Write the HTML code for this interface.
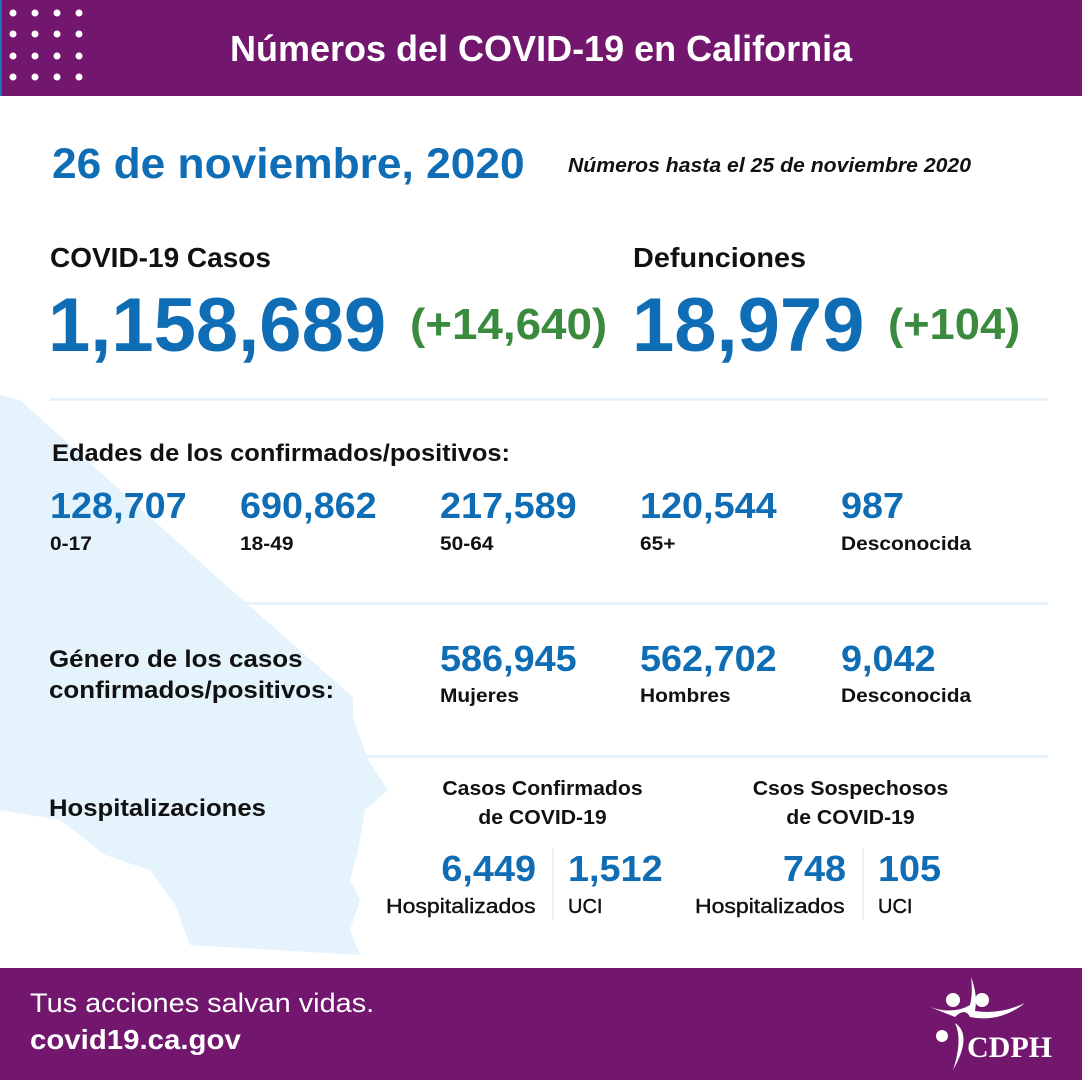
<!DOCTYPE html>
<html><head><meta charset="utf-8"><style>
body{margin:0;width:1082px;height:1080px;position:relative;overflow:hidden;background:#fff;font-family:"Liberation Sans",sans-serif;font-weight:bold}
.a{position:absolute;white-space:nowrap;transform-origin:0 0}
.b{color:#0e6db5}.g{color:#3b8b3e}.k{color:#111}
.hr{position:absolute;left:50px;width:998px;height:3px;background:#e6f3fd}
</style></head><body>
<svg class="a" style="left:0;top:0" width="1082" height="1080">
<polygon fill="#e5f3fd" points="0,395 20,400 220,580 353,697 353,717 368,760 388,790 365,810 358,850 350,880 360,900 350,930 360,955 190,945 175,905 150,870 105,855 60,820 30,815 0,810"/>
</svg>
<div class="a" style="left:0;top:0;width:1082px;height:96px;background:#72166e"></div>
<div class="a" style="left:0;top:0;width:2px;height:96px;background:#1a73ba"></div>
<svg class="a" style="left:0;top:0" width="100" height="96"><g fill="#fff">
<circle cx="13" cy="13" r="3.5"/><circle cx="35" cy="13" r="3.5"/><circle cx="57" cy="13" r="3.5"/><circle cx="79" cy="13" r="3.5"/>
<circle cx="13" cy="34" r="3.5"/><circle cx="35" cy="34" r="3.5"/><circle cx="57" cy="34" r="3.5"/><circle cx="79" cy="34" r="3.5"/>
<circle cx="13" cy="56" r="3.5"/><circle cx="35" cy="56" r="3.5"/><circle cx="57" cy="56" r="3.5"/><circle cx="79" cy="56" r="3.5"/>
<circle cx="13" cy="77" r="3.5"/><circle cx="35" cy="77" r="3.5"/><circle cx="57" cy="77" r="3.5"/><circle cx="79" cy="77" r="3.5"/></g></svg>
<div class="a" style="left:230px;top:28px;font-size:36px;color:#fff">Números del COVID-19 en California</div>
<div class="a b" style="left:52px;top:140px;font-size:43px;transform:scaleX(1.03)">26 de noviembre, 2020</div>
<div class="a k" style="left:568px;top:155px;font-size:20px;font-style:italic;transform:scaleX(1.06)">Números hasta el 25 de noviembre 2020</div>
<div class="a k" style="left:50px;top:242px;font-size:28px">COVID-19 Casos</div>
<div class="a k" style="left:633px;top:242px;font-size:28px;transform:scaleX(1.03)">Defunciones</div>
<div class="a b" style="left:48px;top:282px;font-size:76px">1,158,689</div>
<div class="a g" style="left:410px;top:300px;font-size:44px;transform:scaleX(1.04)">(+14,640)</div>
<div class="a b" style="left:632px;top:282px;font-size:76px">18,979</div>
<div class="a g" style="left:888px;top:300px;font-size:44px;transform:scaleX(1.03)">(+104)</div>
<div class="hr" style="top:398px"></div>
<div class="a k" style="left:52px;top:440px;font-size:24px;transform:scaleX(1.06)">Edades de los confirmados/positivos:</div>
<div class="a b" style="left:50px;top:485px;font-size:36px;transform:scaleX(1.05)">128,707</div>
<div class="a b" style="left:240px;top:485px;font-size:36px;transform:scaleX(1.05)">690,862</div>
<div class="a b" style="left:440px;top:485px;font-size:36px;transform:scaleX(1.05)">217,589</div>
<div class="a b" style="left:640px;top:485px;font-size:36px;transform:scaleX(1.05)">120,544</div>
<div class="a b" style="left:841px;top:485px;font-size:36px;transform:scaleX(1.05)">987</div>
<div class="a k" style="left:50px;top:534px;font-size:19px;transform:scaleX(1.1)">0-17</div>
<div class="a k" style="left:240px;top:534px;font-size:19px;transform:scaleX(1.1)">18-49</div>
<div class="a k" style="left:440px;top:534px;font-size:19px;transform:scaleX(1.1)">50-64</div>
<div class="a k" style="left:640px;top:534px;font-size:19px;transform:scaleX(1.1)">65+</div>
<div class="a k" style="left:841px;top:534px;font-size:19px;transform:scaleX(1.1)">Desconocida</div>
<div class="hr" style="top:602px"></div>
<div class="a k" style="left:49px;top:644px;font-size:24px;line-height:31px;transform:scaleX(1.08)">Género de los casos<br>confirmados/positivos:</div>
<div class="a b" style="left:440px;top:638px;font-size:36px;transform:scaleX(1.05)">586,945</div>
<div class="a b" style="left:640px;top:638px;font-size:36px;transform:scaleX(1.05)">562,702</div>
<div class="a b" style="left:841px;top:638px;font-size:36px;transform:scaleX(1.05)">9,042</div>
<div class="a k" style="left:440px;top:686px;font-size:19px;transform:scaleX(1.1)">Mujeres</div>
<div class="a k" style="left:640px;top:686px;font-size:19px;transform:scaleX(1.1)">Hombres</div>
<div class="a k" style="left:841px;top:686px;font-size:19px;transform:scaleX(1.1)">Desconocida</div>
<div class="hr" style="top:755px"></div>
<div class="a k" style="left:49px;top:795px;font-size:24px;transform:scaleX(1.07)">Hospitalizaciones</div>
<div class="a k" style="left:380px;top:775px;width:325px;text-align:center;font-size:20px;line-height:29px;transform:scaleX(1.06);transform-origin:center top">Casos Confirmados<br>de COVID-19</div>
<div class="a k" style="left:688px;top:775px;width:325px;text-align:center;font-size:20px;line-height:29px;transform:scaleX(1.06);transform-origin:center top">Csos Sospechosos<br>de COVID-19</div>
<div class="a" style="left:552px;top:848px;width:2px;height:72px;background:#e6f3fd"></div>
<div class="a" style="left:862px;top:848px;width:2px;height:72px;background:#e6f3fd"></div>
<div class="a b" style="left:380px;top:848px;width:156px;text-align:right;font-size:36px;transform:scaleX(1.05);transform-origin:right top">6,449</div>
<div class="a b" style="left:568px;top:848px;font-size:36px;transform:scaleX(1.05)">1,512</div>
<div class="a b" style="left:690px;top:848px;width:156px;text-align:right;font-size:36px;transform:scaleX(1.05);transform-origin:right top">748</div>
<div class="a b" style="left:878px;top:848px;font-size:36px;transform:scaleX(1.05)">105</div>
<div class="a k" style="left:386px;top:896px;font-size:20px;font-weight:normal;-webkit-text-stroke:.4px #111;transform:scaleX(1.15)">Hospitalizados</div>
<div class="a k" style="left:568px;top:896px;font-size:20px;font-weight:normal;-webkit-text-stroke:.4px #111">UCI</div>
<div class="a k" style="left:695px;top:896px;font-size:20px;font-weight:normal;-webkit-text-stroke:.4px #111;transform:scaleX(1.15)">Hospitalizados</div>
<div class="a k" style="left:878px;top:896px;font-size:20px;font-weight:normal;-webkit-text-stroke:.4px #111">UCI</div>
<div class="a" style="left:0;top:968px;width:1082px;height:112px;background:#72166e"></div>
<div class="a" style="left:30px;top:988px;font-size:27px;font-weight:normal;color:#fff;transform:scaleX(1.07)">Tus acciones salvan vidas.</div>
<div class="a" style="left:30px;top:1024px;font-size:28px;color:#fff;transform:scaleX(1.05)">covid19.ca.gov</div>
<svg class="a" style="left:925px;top:975px" width="130" height="100"><g fill="#fff">
<circle cx="28" cy="25" r="7"/><circle cx="57" cy="25" r="7"/>
<path d="M5,32 Q28,40 45,30 Q48,18 46,2 Q53,20 50,36 Q75,40 100,28 Q75,48 45,42 Q40,32 30,42 Z"/>
<circle cx="17" cy="61" r="6"/>
<path d="M30,48 Q48,60 28,95 Q38,65 30,48 Z"/>
</g>
<text x="42" y="82" font-family="Liberation Serif,serif" font-size="30" fill="#fff">CDPH</text></svg>
</body></html>
